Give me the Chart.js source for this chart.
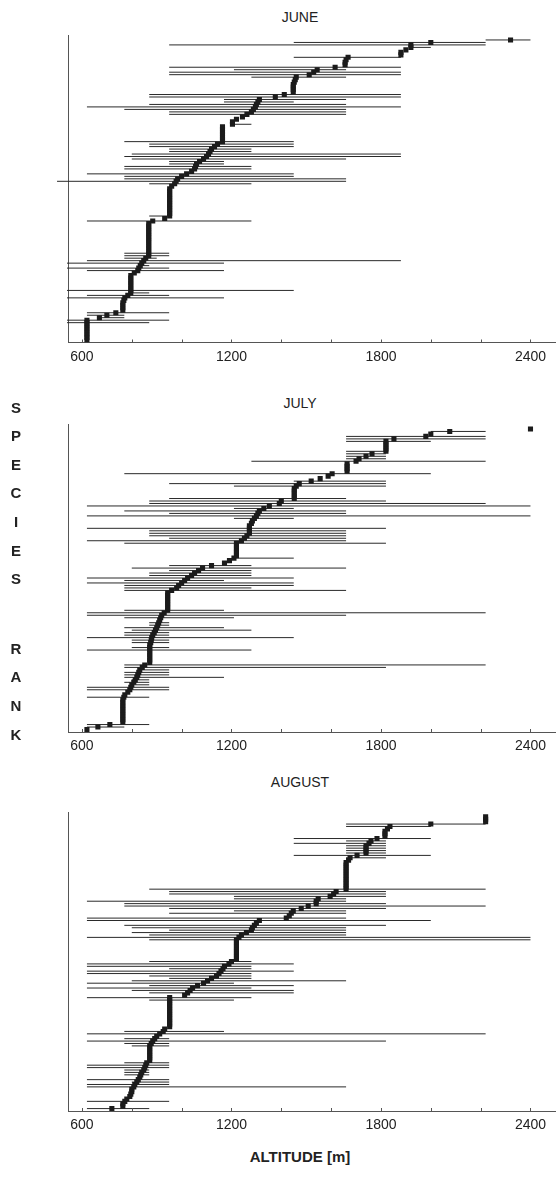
<!DOCTYPE html>
<html>
<head>
<meta charset="utf-8">
<script src="https://cdn.jsdelivr.net/npm/chart.js@4.4.1/dist/chart.umd.min.js"></script>
<style>
  body { margin: 0; background: #fff; width: 559px; height: 1193px; position: relative; overflow: hidden;
         font-family: "Liberation Sans", Arial, sans-serif; color: #222; }
  canvas { position: absolute; left: 0; }
  .month { position: absolute; left: 200px; width: 200px; text-align: center; font-size: 14px; line-height: 16px; }
  #ylab { position: absolute; left: 6px; top: 393.7px; width: 20px; text-align: center; font-weight: bold; font-size: 15px; }
  #ylab div { height: 28.6px; line-height: 28.6px; }
  #ylab .gap { height: 40.9px; }
  #xlab { position: absolute; left: 200px; width: 200px; top: 1148px; text-align: center; font-weight: bold; font-size: 15px; line-height: 17px; }
</style>
</head>
<body>
<canvas id="june"></canvas>
<canvas id="july"></canvas>
<canvas id="august"></canvas>
<div class="month" style="top:9px">JUNE</div>
<div class="month" style="top:395px">JULY</div>
<div class="month" style="top:774px">AUGUST</div>
<div id="ylab"><div>S</div><div>P</div><div>E</div><div>C</div><div>I</div><div>E</div><div>S</div><div class="gap"></div><div>R</div><div>A</div><div>N</div><div>K</div></div>
<div id="xlab">ALTITUDE [m]</div>
<script>
// Axis ticks
const tickValues = [600, 800, 1000, 1200, 1400, 1600, 1800, 2000, 2200, 2400];
const tickLabels = [600, 1200, 1800, 2400];

// JUNE: altitude of the square for species rank 1..122 (bottom to top)
const junePeak = [
  620, 620, 620, 620, 620, 620, 620, 620, 620, 670,
  700, 736, 764, 764, 764, 764, 768, 772, 784, 796,
  796, 796, 796, 796, 796, 796, 796, 810, 824, 828,
  834, 840, 848, 856, 868, 868, 868, 868, 868, 868,
  868, 868, 868, 868, 868, 868, 868, 868, 884, 932,
  952, 952, 952, 952, 952, 952, 952, 952, 952, 952,
  952, 952, 960, 972, 978, 984, 1000, 1020, 1040, 1052,
  1056, 1060, 1072, 1088, 1100, 1108, 1114, 1120, 1132, 1144,
  1164, 1164, 1164, 1164, 1164, 1164, 1164, 1204, 1204, 1220,
  1244, 1262, 1280, 1288, 1296, 1300, 1306, 1312, 1376, 1412,
  1448, 1448, 1448, 1448, 1452, 1456, 1460, 1512, 1530, 1544,
  1616, 1656, 1656, 1660, 1668, 1880, 1880, 1900, 1920, 1920,
  2000, 2320
];
// JUNE: altitudinal range lines (rank, lower end, upper end)
const juneLineRank = [8, 9, 10, 11, 12, 18, 19, 20, 21, 29, 30, 31, 32, 33, 34, 35, 36, 49, 51,
  64, 65, 66, 67, 68, 70, 71, 72, 73, 74, 75, 76, 77, 78, 79, 80, 81, 88,
  92, 93, 94, 95, 96, 97, 98, 99, 100, 107, 108, 109, 110, 111, 115, 119, 120, 121, 122];
const juneLineFrom = [540, 540, 670, 620, 620, 540, 620, 796, 540, 620, 540, 830, 540, 620, 770, 770, 770, 620, 870,
  870, 500, 770, 770, 620, 770, 770, 950, 950, 800, 770, 800, 950, 950, 870, 870, 770, 1200,
  950, 950, 770, 620, 870, 1170, 1170, 870, 870, 1280, 950, 950, 1210, 950, 1450, 1920, 950, 1450, 2220];
const juneLineTo = [870, 950, 770, 770, 950, 1170, 950, 870, 1450, 1170, 950, 870, 1170, 1880, 900, 950, 950, 1280, 952,
  1280, 1660, 1660, 1450, 1450, 1280, 1280, 1170, 1170, 1660, 1880, 1880, 1280, 1280, 1450, 1450, 1450, 1280,
  1660, 1660, 1660, 1880, 1660, 1450, 1660, 1880, 1880, 1660, 1880, 1880, 1660, 1880, 1880, 2000, 2220, 2220, 2400];

// JULY
const julyPeak = [
  620, 664, 712, 764, 764, 764, 764, 764, 764, 764,
  764, 764, 764, 768, 772, 784, 792, 796, 800, 808,
  814, 820, 824, 828, 832, 842, 852, 872, 872, 872,
  872, 872, 872, 872, 872, 876, 878, 880, 884, 890,
  895, 900, 904, 908, 912, 916, 920, 930, 944, 944,
  944, 944, 944, 944, 944, 944, 960, 980, 988, 1000,
  1012, 1024, 1040, 1052, 1068, 1084, 1120, 1172, 1192, 1210,
  1220, 1220, 1220, 1220, 1220, 1220, 1240, 1252, 1262, 1272,
  1272, 1272, 1272, 1280, 1284, 1292, 1300, 1306, 1312, 1330,
  1352, 1392, 1400, 1452, 1452, 1452, 1452, 1452, 1460, 1472,
  1520, 1556, 1588, 1604, 1664, 1664, 1664, 1664, 1700, 1712,
  1740, 1764, 1820, 1820, 1820, 1820, 1820, 1852, 1980, 2000,
  2076, 2400
];
const julyLineRank = [2, 3, 14, 17, 18, 19, 20, 21, 22, 23, 24, 25, 26, 27, 33, 34, 36, 37, 38, 39, 40,
  41, 42, 43, 44, 46, 47, 48, 49, 57, 58, 59, 60, 61, 62, 63, 64, 65, 66, 67, 70,
  76, 77, 78, 79, 80, 81, 82, 86, 87, 88, 89, 90, 91, 92, 93, 94, 99, 100, 101, 104,
  109, 110, 111, 112, 113, 117, 118, 119, 121];
const julyLineFrom = [620, 620, 620, 620, 620, 800, 770, 800, 770, 770, 770, 832, 770, 770, 620, 800, 800, 800, 620, 770, 770,
  800, 770, 870, 870, 770, 620, 620, 770, 770, 770, 770, 620, 770, 620, 870, 870, 950, 800, 950, 1210,
  770, 620, 950, 870, 870, 870, 620, 1210, 620, 950, 770, 1210, 620, 870, 870, 950, 1210, 950, 1450, 770,
  1280, 1660, 1660, 1660, 1660, 1660, 1660, 1660, 2000];
const julyLineTo = [770, 870, 870, 950, 950, 870, 870, 870, 1170, 950, 950, 950, 1820, 2220, 1280, 950, 950, 950, 1450, 950, 950,
  1280, 1170, 950, 950, 1210, 1660, 2220, 1170, 1660, 1280, 1450, 1450, 1170, 1450, 1280, 1280, 1280, 1660, 1280, 1450,
  1820, 1660, 1660, 1660, 1660, 1660, 1820, 1450, 2400, 1660, 1660, 1450, 2400, 2220, 1820, 1660, 1820, 1820, 1820, 2000,
  2220, 1820, 1820, 1820, 1820, 2000, 2220, 2220, 2220];

// AUGUST
const augustPeak = [
  720, 764, 764, 772, 780, 792, 796, 800, 800, 808,
  812, 820, 826, 832, 836, 840, 848, 852, 856, 860,
  872, 872, 872, 872, 872, 872, 872, 878, 884, 892,
  900, 912, 926, 932, 952, 952, 952, 952, 952, 952,
  952, 952, 952, 952, 952, 952, 952, 1012, 1024, 1034,
  1044, 1064, 1088, 1104, 1120, 1140, 1150, 1158, 1166, 1172,
  1190, 1200, 1220, 1220, 1220, 1220, 1220, 1220, 1220, 1220,
  1220, 1230, 1240, 1260, 1280, 1284, 1292, 1300, 1312, 1420,
  1432, 1440, 1448, 1480, 1508, 1540, 1540, 1548, 1596, 1610,
  1620, 1660, 1660, 1660, 1660, 1660, 1660, 1660, 1660, 1660,
  1660, 1660, 1660, 1670, 1676, 1704, 1740, 1740, 1740, 1740,
  1752, 1760, 1784, 1816, 1816, 1816, 1826, 1836, 2000, 2220,
  2220, 2220
];
const augustLineRank = [1, 4, 10, 11, 12, 13, 15, 16, 17, 18, 19, 20, 27, 28, 29, 30, 32, 33,
  46, 47, 49, 50, 51, 52, 53, 54, 55, 56, 57, 58, 59, 60, 61, 62,
  71, 72, 73, 74, 75, 76, 77, 79, 80, 82, 83, 84, 85, 86, 87, 88, 89, 90, 91, 92,
  105, 106, 107, 108, 109, 110, 111, 112, 113, 118, 119];
const augustLineFrom = [620, 620, 620, 620, 800, 620, 770, 770, 770, 620, 620, 770, 800, 770, 620, 770, 620, 770,
  870, 620, 870, 800, 620, 870, 620, 800, 950, 870, 620, 620, 950, 620, 620, 870,
  870, 620, 870, 800, 950, 800, 770, 620, 620, 950, 1210, 950, 770, 770, 620, 1210, 1210, 950, 950, 870,
  1660, 1450, 1660, 1660, 1660, 1660, 1450, 1660, 1450, 1660, 1660];
const augustLineTo = [870, 950, 1660, 950, 950, 950, 870, 870, 870, 950, 950, 950, 950, 950, 1820, 950, 2220, 1170,
  1210, 1280, 1450, 1450, 1280, 1450, 1210, 1660, 1280, 1280, 1280, 1450, 1280, 1280, 1450, 1280,
  2400, 2400, 1660, 1660, 1660, 1660, 1820, 2000, 1660, 1660, 1660, 1820, 2220, 1820, 1660, 1660, 1820, 1820, 1820, 2220,
  1820, 2000, 1820, 1820, 1820, 1820, 1820, 1820, 2000, 2000, 2220];

const fontFamily = '"Liberation Sans", Arial, sans-serif';

// short tick marks pointing into the plot
const innerTicks = {
  id: 'innerTicks',
  afterDraw(chart) {
    const xs = chart.scales.x;
    const b = chart.chartArea.bottom;
    const ctx = chart.ctx;
    ctx.save();
    ctx.strokeStyle = '#555';
    ctx.lineWidth = 1;
    xs.ticks.forEach((t) => {
      const px = Math.round(xs.getPixelForValue(t.value)) + 0.5;
      ctx.beginPath();
      ctx.moveTo(px, b);
      ctx.lineTo(px, b - 3);
      ctx.stroke();
    });
    ctx.restore();
  },
};

// one segment per species, separated by gaps
const rangePoints = (ranks, from, to) => {
  const pts = [];
  ranks.forEach((r, i) => {
    pts.push({ x: from[i], y: r }, { x: to[i], y: r }, { x: to[i], y: null });
  });
  return pts;
};

const makePanel = (id, box, peaks, lineRank, lineFrom, lineTo) => {
  const cv = document.getElementById(id);
  const top = box.plotTop - 5;
  const height = Math.ceil(box.plotBottom - top + 34);
  cv.width = 559;
  cv.height = height;
  cv.style.top = top + 'px';
  const padBottom = height - (box.plotBottom - top) - 30;

  return new Chart(cv, {
    type: 'scatter',
    data: {
      datasets: [
        {
          data: peaks.map((v, i) => ({ x: v, y: i + 1 })),
          pointStyle: 'rect',
          pointRadius: 3.6,
          pointHoverRadius: 3.6,
          backgroundColor: '#1b1b1b',
          borderWidth: 0,
        },
        {
          data: rangePoints(lineRank, lineFrom, lineTo),
          showLine: true,
          spanGaps: false,
          pointRadius: 0,
          borderColor: '#2a2a2a',
          borderWidth: 1,
          clip: false,
        },
      ],
    },
    options: {
      responsive: false,
      animation: false,
      events: [],
      layout: { padding: { left: 68, right: 0, top: 5, bottom: padBottom } },
      plugins: {
        legend: { display: false },
        tooltip: { enabled: false },
      },
      scales: {
        x: {
          type: 'linear',
          min: 544,
          max: 2500,
          grid: { display: false, drawTicks: false },
          border: { display: true, color: '#555', width: 1 },
          ticks: {
            color: '#222',
            font: { family: fontFamily, size: 14 },
            padding: 6,
            autoSkip: false,
            maxRotation: 0,
            callback: (v) => (tickLabels.includes(v) ? String(v) : ''),
          },
          afterBuildTicks: (s) => {
            s.ticks = tickValues.map((v) => ({ value: v }));
          },
          afterFit: (s) => {
            s.height = 30;
          },
        },
        y: {
          type: 'linear',
          min: 0,
          max: 124,
          grid: { display: false },
          border: { display: true, color: '#555', width: 1 },
          ticks: { display: false },
          afterFit: (s) => {
            s.width = 0;
          },
        },
      },
    },
    plugins: [innerTicks],
  });
};

makePanel('june', { plotTop: 35, plotBottom: 342.5 }, junePeak, juneLineRank, juneLineFrom, juneLineTo);
makePanel('july', { plotTop: 424, plotBottom: 732 }, julyPeak, julyLineRank, julyLineFrom, julyLineTo);
makePanel('august', { plotTop: 812, plotBottom: 1111 }, augustPeak, augustLineRank, augustLineFrom, augustLineTo);
</script>
</body>
</html>
